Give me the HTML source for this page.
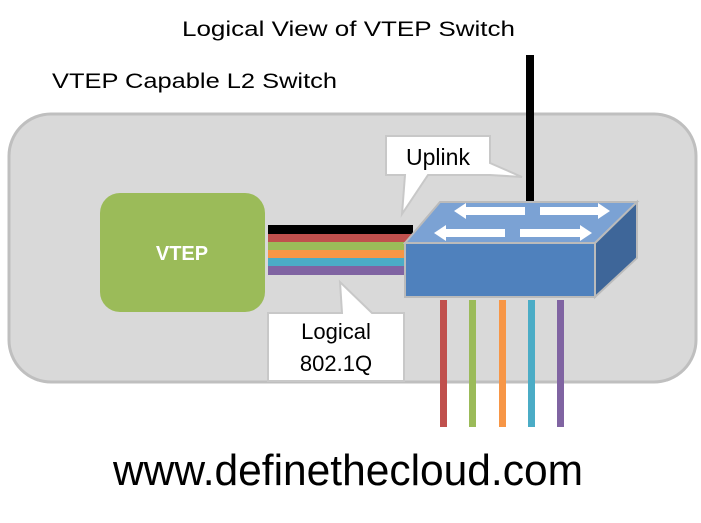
<!DOCTYPE html>
<html><head><meta charset="utf-8"><style>html,body{margin:0;padding:0;background:#fff}svg{display:block}</style></head>
<body>
<svg width="701" height="523" viewBox="0 0 701 523" xmlns="http://www.w3.org/2000/svg" font-family="Liberation Sans, sans-serif">
<rect width="701" height="523" fill="#fff"/>
<text x="182" y="36" font-size="21" textLength="333" lengthAdjust="spacingAndGlyphs" fill="#000">Logical View of VTEP Switch</text>
<text x="52" y="88" font-size="21" textLength="285" lengthAdjust="spacingAndGlyphs" fill="#000">VTEP Capable L2 Switch</text>
<rect x="9" y="114" width="687" height="268" rx="42" fill="#d9d9d9" stroke="#bfbfbf" stroke-width="3"/>
<rect x="526" y="55" width="8" height="148" fill="#000"/>
<rect x="100" y="193" width="165" height="119" rx="20" fill="#9bbb59"/>
<text x="182" y="260" font-size="20" font-weight="bold" fill="#fff" text-anchor="middle">VTEP</text>
<rect x="268" y="225" width="145" height="9" fill="#000"/>
<rect x="268" y="234" width="145" height="8" fill="#c0504d"/>
<rect x="268" y="242" width="145" height="8" fill="#9bbb59"/>
<rect x="268" y="250" width="145" height="8" fill="#f79646"/>
<rect x="268" y="258" width="145" height="8" fill="#4bacc6"/>
<rect x="268" y="266" width="145" height="9" fill="#8064a2"/>
<polygon points="405,243 440,202 637,202 595,243" fill="#7ba2d4" stroke="#bbb" stroke-width="2"/>
<polygon points="595,243 637,202 637,258 595,297" fill="#3e6699" stroke="#bbb" stroke-width="2"/>
<rect x="405" y="243" width="190" height="54" fill="#4f81bd" stroke="#bbb" stroke-width="2"/>
<g fill="#fff">
<polygon points="454,211 466,203 466,207 525,207 525,215 466,215 466,219"/>
<polygon points="540,207 598,207 598,203 610,211 598,219 598,215 540,215"/>
<polygon points="434,233 446,225 446,229 505,229 505,237 446,237 446,241"/>
<polygon points="520,229 580,229 580,225 592,233 580,241 580,237 520,237"/>
</g>
<g>
<rect x="440" y="300" width="7" height="127" fill="#c0504d"/>
<rect x="469" y="300" width="7" height="127" fill="#9bbb59"/>
<rect x="499" y="300" width="7" height="127" fill="#f79646"/>
<rect x="528" y="300" width="7" height="127" fill="#4bacc6"/>
<rect x="557" y="300" width="7" height="127" fill="#8064a2"/>
</g>
<path d="M386,136 H490 V163 L522,177 L490,175 H428 L402,214 L405,175 H386 Z" fill="#fff" stroke="#c8c8c8" stroke-width="2"/>
<text x="438" y="165" font-size="23" text-anchor="middle" fill="#000">Uplink</text>
<path d="M268,313 H342 L340,282 L372,313 H404 V381 H268 Z" fill="#fff" stroke="#c8c8c8" stroke-width="2"/>
<text x="336" y="339" font-size="22" text-anchor="middle" fill="#000">Logical</text>
<text x="336" y="371" font-size="22" text-anchor="middle" fill="#000">802.1Q</text>
<text x="113" y="485" font-size="44" textLength="470" lengthAdjust="spacingAndGlyphs" fill="#000">www.definethecloud.com</text>
</svg>
</body></html>
